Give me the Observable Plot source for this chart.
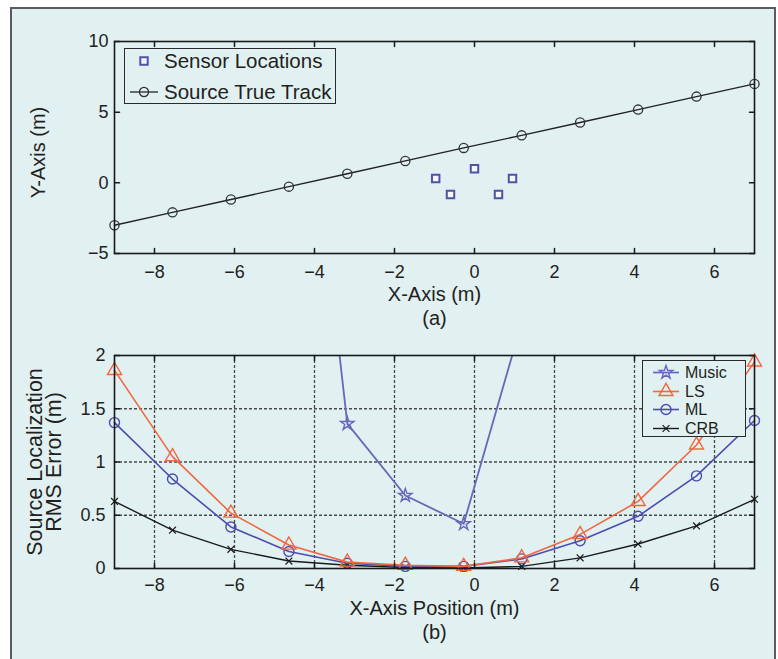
<!DOCTYPE html>
<html><head><meta charset="utf-8">
<script src="https://cdn.jsdelivr.net/npm/d3@7"></script>
<script src="https://cdn.jsdelivr.net/npm/@observablehq/plot@0.6"></script>
<style>
body{margin:0;background:#fff;font-family:"Liberation Sans",Arial,Helvetica,sans-serif;color:#231f20}
#wrap{position:relative;width:778px;height:659px;overflow:hidden}
#bg{position:absolute;left:10px;top:7px;width:766px;height:670px;background:#e1f0f1;border:2px solid #5c5c5c;box-sizing:border-box}
#plots{position:absolute;left:0;top:0}
#plots svg{display:block}
.legend{position:absolute;border:1.3px solid #2a2a2a;box-sizing:border-box;background:#e1f0f1}
.row{position:absolute;left:0;white-space:nowrap;line-height:1;overflow:visible}
.row svg{position:absolute;left:0;top:0;overflow:visible}
.row span{position:absolute}
</style></head><body>
<div id="wrap"><div id="bg"></div><div id="plots"></div></div>
<script>
// ---------- data ----------
const xTicks = [-8, -6, -4, -2, 0, 2, 4, 6];
const yTicksA = [-5, 0, 5, 10];
const yTicksB = [0, 0.5, 1, 1.5, 2];
const yGridB = [0.5, 1, 1.5];

const trackX = [-9, -7.55, -6.09, -4.64, -3.18, -1.73, -0.27, 1.18, 2.64, 4.09, 5.55, 7];
const trackY = [-3, -2.09, -1.18, -0.27, 0.64, 1.55, 2.47, 3.36, 4.27, 5.18, 6.1, 7];

const sensorX = [-0.97, -0.6, 0, 0.6, 0.95];
const sensorY = [0.31, -0.82, 1.0, -0.82, 0.31];

const errX = [-9, -7.55, -6.09, -4.64, -3.18, -1.73, -0.27, 1.18, 2.64, 4.09, 5.55, 7];
const musicX = [-4.64, -3.18, -1.73, -0.27, 1.18];
const musicY = [6.2, 1.36, 0.685, 0.42, 2.31];
const lsY  = [1.86, 1.05, 0.52, 0.22, 0.06, 0.03, 0.02, 0.10, 0.32, 0.63, 1.16, 1.94];
const mlY  = [1.37, 0.84, 0.39, 0.16, 0.05, 0.02, 0.02, 0.09, 0.26, 0.49, 0.87, 1.39];
const crbY = [0.63, 0.36, 0.18, 0.07, 0.03, 0.01, 0.005, 0.02, 0.10, 0.23, 0.40, 0.65];

const legendA = ["Sensor Locations", "Source True Track"];
const legendB = ["Music", "LS", "ML", "CRB"];
const textA = {x: "X-Axis (m)", y: "Y-Axis (m)", sub: "(a)"};
const textB = {x: "X-Axis Position (m)", y: "Source Localization\nRMS Error (m)", sub: "(b)"};

// ---------- styles ----------
const FONT = '"Liberation Sans", Arial, Helvetica, sans-serif';
const INK = "#231f20";
const C = {music: "#6668bb", ls: "#f2673f", ml: "#4b4db0", crb: "#1a1a1a", sensor: "#4f52a8", track: "#222"};

const fmt = d => d < 0 ? "\u2212" + Math.abs(d) : String(d);
const tickShape = {draw(ctx, l) { ctx.moveTo(0, 0); ctx.lineTo(0, -l); }};
function inwardTicks(xt, yt) {
  const o = {length: 5, anchor: "start", shape: tickShape, stroke: "#1a1a1a", strokeWidth: 1.5};
  return [
    Plot.vector(xt, {...o, x: d => d, frameAnchor: "bottom", rotate: 0}),
    Plot.vector(xt, {...o, x: d => d, frameAnchor: "top", rotate: 180}),
    Plot.vector(yt, {...o, y: d => d, frameAnchor: "left", rotate: 90}),
    Plot.vector(yt, {...o, y: d => d, frameAnchor: "right", rotate: -90})
  ];
}
const lab = {text: d => d, textAnchor: "middle", lineAnchor: "middle"};

const track = trackX.map((x, i) => ({x, y: trackY[i]}));
const sensors = sensorX.map((x, i) => ({x, y: sensorY[i]}));
const music = musicX.map((x, i) => ({x, y: musicY[i]}));
const ls = errX.map((x, i) => ({x, y: lsY[i]}));
const ml = errX.map((x, i) => ({x, y: mlY[i]}));
const crb = errX.map((x, i) => ({x, y: crbY[i]}));

const style = {background: "transparent", fontFamily: FONT, fontSize: "18px", color: INK, overflow: "visible"};

const plotA = Plot.plot({
  width: 778, height: 330,
  marginLeft: 114, marginRight: 24, marginTop: 41, marginBottom: 77,
  x: {domain: [-9, 7]}, y: {domain: [-5, 10]},
  style,
  marks: [
    Plot.line(track, {x: "x", y: "y", stroke: C.track, strokeWidth: 1.4}),
    Plot.dot(track, {x: "x", y: "y", r: 4.6, stroke: "#333", strokeWidth: 1.3, fill: "none"}),
    Plot.dot(sensors, {x: "x", y: "y", symbol: "square", r: 4.2, stroke: C.sensor, strokeWidth: 2, fill: "#f4f8fb"}),
    Plot.frame({stroke: "#1a1a1a", strokeWidth: 1.6}),
    ...inwardTicks(xTicks, yTicksA),
    Plot.axisX(xTicks, {anchor: "bottom", tickSize: 0, tickPadding: 12, tickFormat: fmt, label: null}),
    Plot.axisY(yTicksA, {anchor: "left", tickSize: 0, tickPadding: 6, tickFormat: fmt, label: null}),
    Plot.text([textA.x], {...lab, frameAnchor: "bottom", dy: 41, fontSize: 20}),
    Plot.text([textA.sub], {...lab, frameAnchor: "bottom", dy: 65, fontSize: 20}),
    Plot.text([textA.y], {...lab, frameAnchor: "left", rotate: -90, dx: -76, dy: 5, fontSize: 20})
  ]
});

const plotB = Plot.plot({
  width: 778, height: 329,
  marginLeft: 114, marginRight: 24, marginTop: 25, marginBottom: 91,
  x: {domain: [-9, 7]}, y: {domain: [0, 2]},
  style,
  marks: [
    Plot.gridX(xTicks, {stroke: "#4a4a4a", strokeOpacity: 1, strokeWidth: 1.3, strokeDasharray: "3,2"}),
    Plot.gridY(yGridB, {stroke: "#4a4a4a", strokeOpacity: 1, strokeWidth: 1.3, strokeDasharray: "3,2"}),
    Plot.line(crb, {x: "x", y: "y", stroke: C.crb, strokeWidth: 1.4}),
    Plot.dot(crb, {x: "x", y: "y", symbol: "times", r: 3.2, stroke: C.crb, strokeWidth: 1.2}),
    Plot.line(ml, {x: "x", y: "y", stroke: C.ml, strokeWidth: 1.6}),
    Plot.dot(ml, {x: "x", y: "y", r: 5, stroke: C.ml, strokeWidth: 1.4, fill: "none"}),
    Plot.line(music, {x: "x", y: "y", stroke: C.music, strokeWidth: 1.8, clip: true}),
    Plot.dot(music, {x: "x", y: "y", symbol: "star", r: 4.2, stroke: C.music, strokeWidth: 1.4, fill: "none", clip: true}),
    Plot.line(ls, {x: "x", y: "y", stroke: C.ls, strokeWidth: 1.6}),
    Plot.dot(ls, {x: "x", y: "y", symbol: "triangle", r: 5.2, stroke: C.ls, strokeWidth: 1.4, fill: "none"}),
    Plot.frame({stroke: "#1a1a1a", strokeWidth: 1.6}),
    ...inwardTicks(xTicks, yTicksB),
    Plot.axisX(xTicks, {anchor: "bottom", tickSize: 0, tickPadding: 10, tickFormat: fmt, label: null}),
    Plot.axisY(yTicksB, {anchor: "left", tickSize: 0, tickPadding: 9, tickFormat: fmt, label: null}),
    Plot.text([textB.x], {...lab, frameAnchor: "bottom", dy: 40, fontSize: 20}),
    Plot.text([textB.sub], {...lab, frameAnchor: "bottom", dy: 64, fontSize: 20}),
    Plot.text([textB.y], {...lab, frameAnchor: "left", rotate: -90, dx: -69, fontSize: 21.5, lineHeight: 0.88})
  ]
});

const host = document.getElementById("plots");
host.appendChild(plotA);
host.appendChild(plotB);

// ---------- legends (HTML) ----------
function symPath(type, r) {
  const t = {circle: d3.symbolCircle, square: d3.symbolSquare, triangle: d3.symbolTriangle, star: d3.symbolStar, times: d3.symbolTimes}[type];
  return d3.symbol().type(t).size(Math.PI * r * r)();
}
function makeLegend(cfg) {
  const box = document.createElement("div");
  box.className = "legend";
  Object.assign(box.style, {left: cfg.left + "px", top: cfg.top + "px", width: cfg.width + "px", height: cfg.height + "px"});
  const h = cfg.rowH;
  cfg.items.forEach((it, i) => {
    const row = document.createElement("div");
    row.className = "row";
    Object.assign(row.style, {top: (cfg.rows[i] - h / 2) + "px", height: h + "px", width: (cfg.width - 4) + "px"});
    const svg = d3.create("svg").attr("width", cfg.textX).attr("height", h);
    if (it.line) svg.append("line").attr("x1", cfg.sx0).attr("x2", cfg.sx1).attr("y1", h / 2).attr("y2", h / 2)
      .attr("stroke", it.color).attr("stroke-width", it.lw || 1.6);
    svg.append("path").attr("d", symPath(it.symbol, it.r)).attr("transform", `translate(${(cfg.sx0 + cfg.sx1) / 2},${h / 2})`)
      .attr("stroke", it.color).attr("stroke-width", it.sw || 1.4).attr("fill", it.fill || "none");
    row.appendChild(svg.node());
    const sp = document.createElement("span");
    sp.textContent = it.label;
    Object.assign(sp.style, {left: cfg.textX + "px", fontSize: cfg.fontSize + "px", color: INK, lineHeight: h + "px", height: h + "px", top: "0px"});
    row.appendChild(sp);
    box.appendChild(row);
  });
  document.getElementById("wrap").appendChild(box);
}
makeLegend({
  left: 124, top: 48, width: 212, height: 56, rows: [12, 43], rowH: 22, sx0: 5, sx1: 33, textX: 39, fontSize: 20.5,
  items: [
    {label: legendA[0], symbol: "square", r: 4.2, color: C.sensor, sw: 2, fill: "#f4f8fb", line: false},
    {label: legendA[1], symbol: "circle", r: 4.6, color: "#333", sw: 1.3, line: true, lw: 1.4}
  ]
});
makeLegend({
  left: 642, top: 360, width: 104, height: 77, rows: [11.5, 30, 48.5, 67], rowH: 17, sx0: 10, sx1: 36, textX: 42, fontSize: 16,
  items: [
    {label: legendB[0], symbol: "star", r: 4.2, color: C.music, line: true, lw: 1.7},
    {label: legendB[1], symbol: "triangle", r: 5.2, color: C.ls, line: true},
    {label: legendB[2], symbol: "circle", r: 5, color: C.ml, line: true},
    {label: legendB[3], symbol: "times", r: 3.2, color: C.crb, sw: 1.2, line: true, lw: 1.4}
  ]
});
</script>
</body></html>
